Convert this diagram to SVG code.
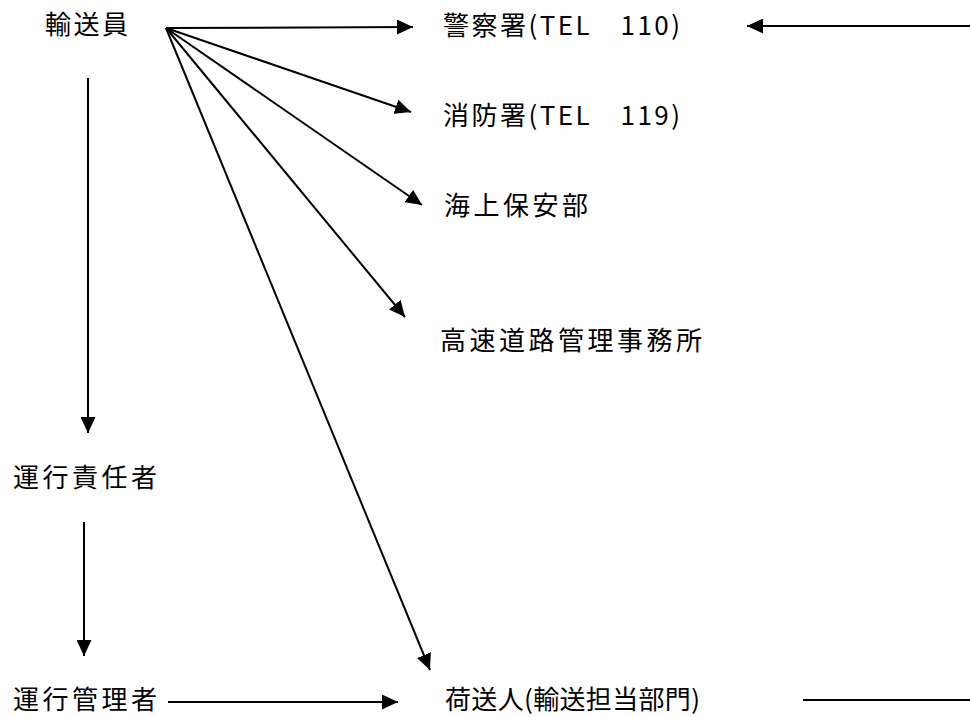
<svg xmlns="http://www.w3.org/2000/svg" width="970" height="717" viewBox="0 0 970 717">
<style>
text{font-family:"Noto Sans CJK JP","Noto Sans CJK SC",sans-serif;font-size:26px;fill:#000}
.c line{stroke:#000;stroke-width:2;fill:none}
</style>
<defs>
<marker id="a" viewBox="0 0 16 15" refX="16" refY="7.5" markerWidth="16" markerHeight="15" markerUnits="userSpaceOnUse" orient="auto"><path d="M0,0 L16,7.5 L0,15 z" fill="#000"/></marker>
</defs>
<rect width="970" height="717" fill="#fff"/>
<g class="c" id="connectors">
<line x1="166" y1="28" x2="413" y2="27" marker-end="url(#a)"/>
<line x1="166" y1="28" x2="411" y2="112" marker-end="url(#a)"/>
<line x1="166" y1="28" x2="422" y2="205" marker-end="url(#a)"/>
<line x1="166" y1="28" x2="405" y2="317" marker-end="url(#a)"/>
<line x1="166" y1="28" x2="430" y2="670" marker-end="url(#a)"/>
<line x1="88" y1="78" x2="88" y2="433" marker-end="url(#a)"/>
<line x1="84" y1="522" x2="84" y2="656" marker-end="url(#a)"/>
<line x1="168" y1="702" x2="398" y2="702" marker-end="url(#a)"/>
<line x1="970" y1="26" x2="747" y2="26" marker-end="url(#a)"/>
<line x1="803" y1="700" x2="970" y2="700"/>
</g>
<g id="n1"><text x="45" y="34" textLength="83" lengthAdjust="spacing">輸送員</text></g>
<g id="n2"><text x="443" y="35" textLength="237" lengthAdjust="spacing">警察署(TEL　110)</text></g>
<g id="n3"><text x="443" y="125" textLength="237" lengthAdjust="spacing">消防署(TEL　119)</text></g>
<g id="n4"><text x="444" y="215" textLength="144" lengthAdjust="spacing">海上保安部</text></g>
<g id="n5"><text x="440" y="350" textLength="262" lengthAdjust="spacing">高速道路管理事務所</text></g>
<g id="n6"><text x="13" y="487" textLength="144" lengthAdjust="spacing">運行責任者</text></g>
<g id="n7"><text x="13" y="709" textLength="144" lengthAdjust="spacing">運行管理者</text></g>
<g id="n8"><text x="445" y="709" textLength="255" lengthAdjust="spacing">荷送人(輸送担当部門)</text></g>
</svg>
